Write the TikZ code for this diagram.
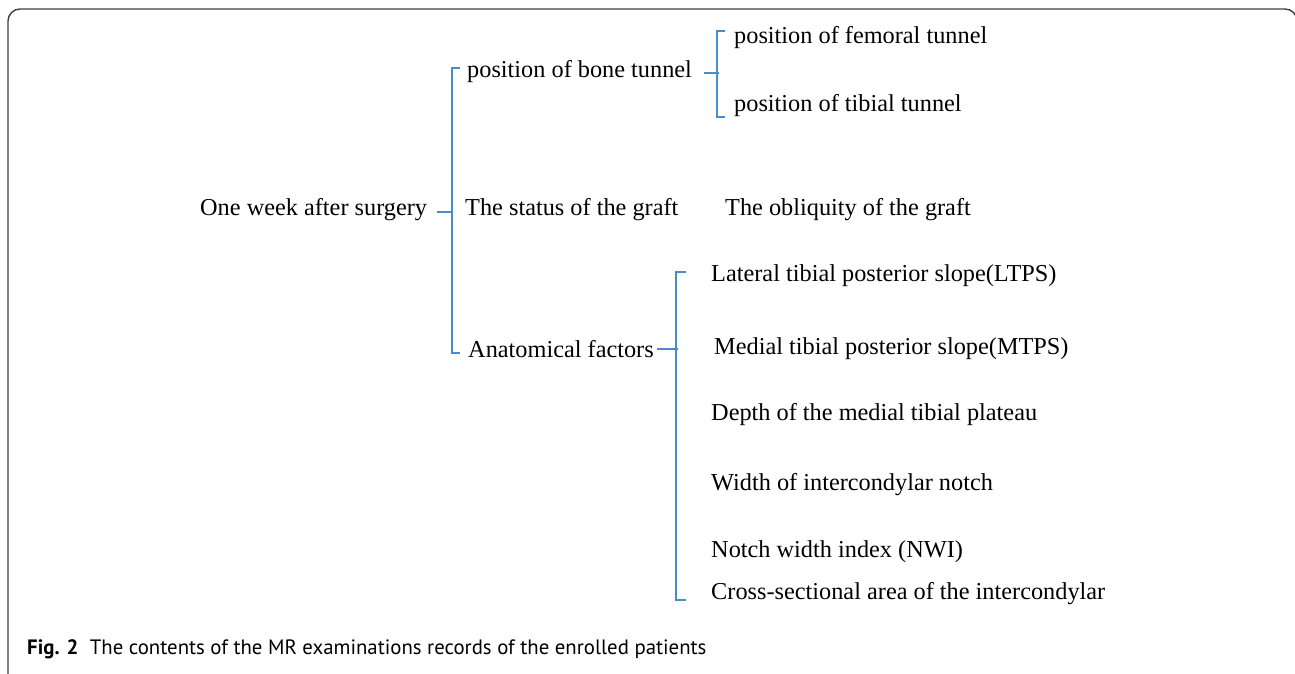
\documentclass[tikz,border=0pt]{standalone}
\usepackage{fontspec}
\setmainfont{Liberation Serif}
\newfontfamily\capfont{PT Sans}
\usetikzlibrary{positioning}
\definecolor{brkblue}{RGB}{74,140,202}

\begin{document}
\begin{tikzpicture}[x=1pt,y=-1pt,
  item/.style={anchor=west,inner sep=0pt,font=\fontsize{24.3}{28}\selectfont},
  brk/.style={draw=brkblue,line width=2pt},
  frame/.style={draw=black!75,line width=1.4pt,rounded corners=12pt}]
  \useasboundingbox (0,0) rectangle (1295,674);
  \clip (0,0) rectangle (1295,674);
  \draw[frame] (8,690) -- (8,9) -- (1297,9) -- (1297,60);

  \node[item] (root)   at (200,210) {One week after surgery};
  \node[item] (bone)   at (467,72)  {position of bone tunnel};
  \node[item] (status) at (465,210) {The status of the graft};
  \node[item] (anat)   at (468,349) {Anatomical factors};
  \node[item] (fem)    at (734,38)  {position of femoral tunnel};
  \node[item] (tib)    at (734,106) {position of tibial tunnel};
  \node[item] (obl)    at (725,210) {The obliquity of the graft};
  \node[item] (ltps)   at (711,276) {Lateral tibial posterior slope(LTPS)};
  \node[item] (mtps)   at (714,349) {Medial tibial posterior slope(MTPS)};
  \node[item] (depth)  at (711,415) {Depth of the medial tibial plateau};
  \node[item] (width)  at (711,485) {Width of intercondylar notch};
  \node[item] (nwi)    at (711,552) {Notch width index (NWI)};
  \node[item] (cross)  at (711,594) {Cross-sectional area of the intercondylar};

  \draw[brk] ([xshift=10pt,yshift=-2pt]root.east) -- ++(15,0);
  \draw[brk] ([xshift=-7pt,yshift=4pt]bone.west) -- ++(-8,0) |- ([xshift=-8pt,yshift=-4pt]anat.west);
  \draw[brk] ([xshift=12pt,yshift=-1pt]bone.east) -- ++(15,0);
  \draw[brk] ([xshift=-9pt,yshift=7pt]fem.west) -- ++(-8,0) |- ([xshift=-9pt,yshift=-11pt]tib.west);
  \draw[brk] ([xshift=3pt]anat.east) -- ++(21,0);
  \draw[brk] ([xshift=-25pt,yshift=4pt]ltps.west) -- ++(-10,0) |- ([xshift=-25pt,yshift=-6pt]cross.west);

  \node[anchor=west,inner sep=0pt,font=\capfont\fontsize{20.8}{24}\selectfont] (cap) at (27,649)
    {\textbf{Fig. 2}\hspace{0.55em}The contents of the MR examinations records of the enrolled patients};
\end{tikzpicture}
\end{document}
